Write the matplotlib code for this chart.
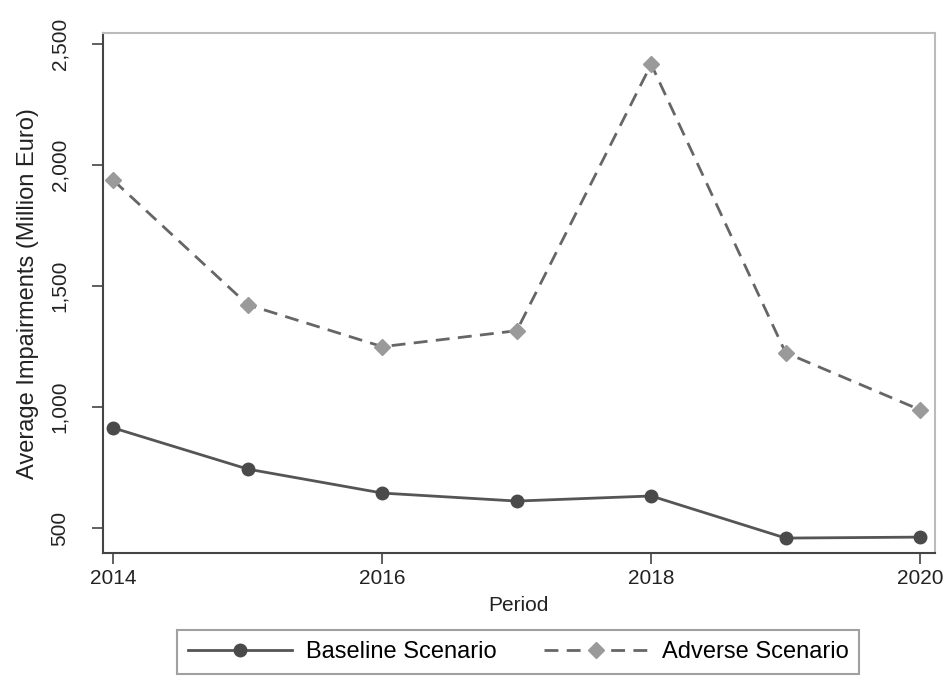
import matplotlib
matplotlib.use("Agg")
import matplotlib.pyplot as plt
from matplotlib.ticker import FuncFormatter

periods = [2014, 2015, 2016, 2017, 2018, 2019, 2020]
baseline = [914, 744, 645, 612, 633, 459, 463]
adverse = [1937, 1423, 1250, 1316, 2417, 1225, 989]
x_ticks = [2014, 2016, 2018, 2020]
y_ticks = [500, 1000, 1500, 2000, 2500]

plt.rcParams["font.family"] = ["Liberation Sans", "DejaVu Sans"]

fig = plt.figure(figsize=(9.51, 6.8), dpi=100)
ax = fig.add_axes([0.108, 0.187, 0.875, 0.764])

ax.plot(periods, baseline, color="#555555", lw=2.0, marker="o", ms=9,
        mfc="#4a4a4a", mec="#4a4a4a", label="Baseline Scenario")
ax.plot(periods, adverse, color="#666666", lw=2.0, ls=(0, (5, 3)), marker="D", ms=8,
        mfc="#9a9a9a", mec="#9a9a9a", label="Adverse Scenario")

ax.set_xlim(2013.92, 2020.11)
ax.set_ylim(398, 2545)
ax.set_xticks(x_ticks)
ax.set_yticks(y_ticks)
ax.yaxis.set_major_formatter(FuncFormatter(lambda v, p: f"{int(v):,}"))
for lbl in ax.get_yticklabels():
    lbl.set_rotation(90)
    lbl.set_va("center")
ax.tick_params(axis="both", labelsize=15, color="#444444", length=8, width=1.2,
               labelcolor="#222222")
ax.tick_params(axis="y", pad=16)

for side in ["top", "right"]:
    ax.spines[side].set_color("#bbbbbb")
    ax.spines[side].set_linewidth(1.5)
for side in ["left", "bottom"]:
    ax.spines[side].set_color("#444444")
    ax.spines[side].set_linewidth(1.5)

ax.set_xlabel("Period", fontsize=15, color="#222222", labelpad=6)
ax.set_ylabel("Average Impairments (Million Euro)", fontsize=17, color="#222222", labelpad=8)

leg = fig.legend(loc="lower center", bbox_to_anchor=(0.545, -0.008), ncol=2, fontsize=17,
                 frameon=True, fancybox=False, edgecolor="#888888", handlelength=4.4,
                 columnspacing=2.0, borderpad=0.45, handletextpad=0.6)
leg.get_frame().set_linewidth(1.5)

fig.savefig("out.png", dpi=100)
